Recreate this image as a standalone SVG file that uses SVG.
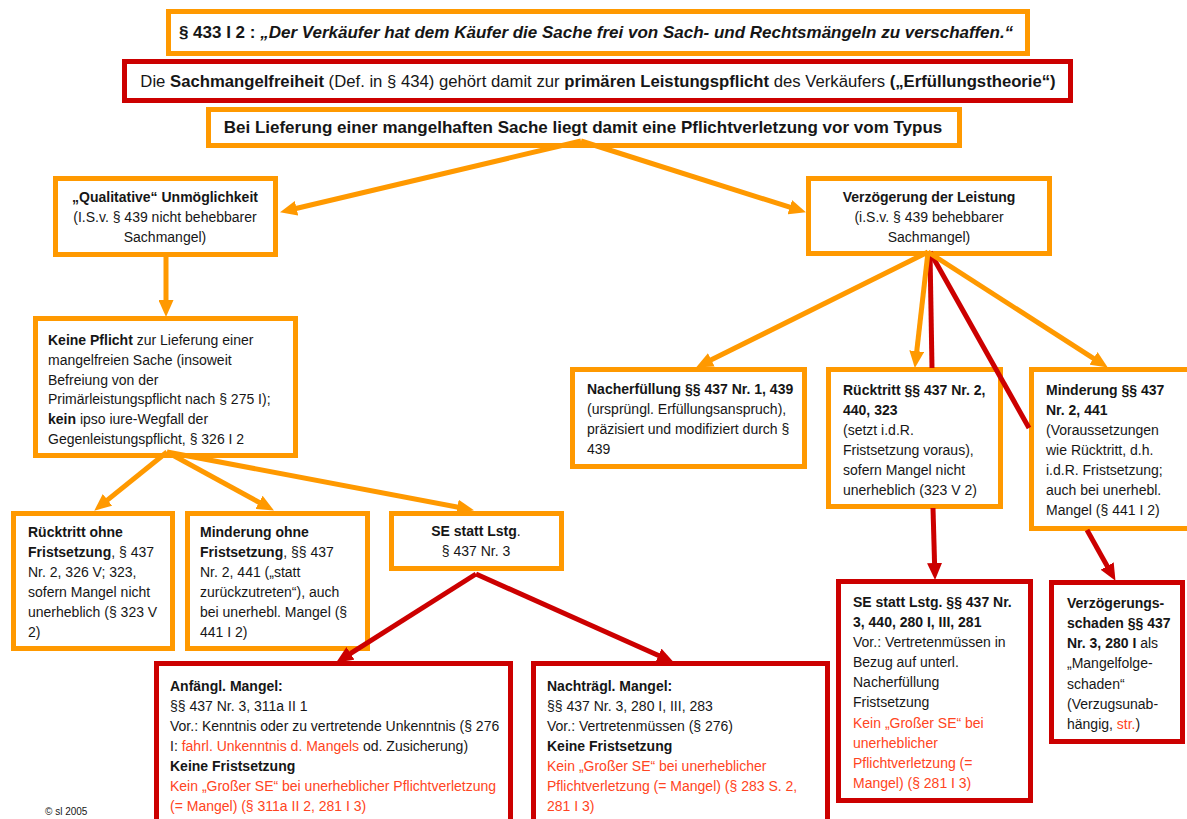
<svg xmlns="http://www.w3.org/2000/svg" width="1187" height="819" viewBox="0 0 1187 819">
  <style>
    .o { fill: #ffffff; stroke: #FF9900; stroke-width: 5; }
    .r { fill: #ffffff; stroke: #CC0000; stroke-width: 5; }
    text { font-family: "Liberation Sans Narrow", "Arial Narrow", "Liberation Sans", Arial, sans-serif; font-size: 14px; fill: #161616; }
    .h { font-size: 17px; }
    .h2 { font-size: 16.7px; }
    .b { font-weight: bold; }
    .i { font-style: italic; }
    .c { text-anchor: middle; }
    .hl { fill: #FF4422; }
    .co { stroke: #FF9900; stroke-width: 5; fill: none; }
    .cr { stroke: #CC0000; stroke-width: 5; fill: none; }
    .co.a { marker-end: url(#ho); }
    .cr.a { marker-end: url(#hr); }
  </style>
  <defs>
    <marker id="ho" markerUnits="userSpaceOnUse" markerWidth="17" markerHeight="15" refX="5" refY="7.5" orient="auto" viewBox="0 0 17 15">
      <path d="M0,0 L17,7.5 L0,15 z" fill="#FF9900"/>
    </marker>
    <marker id="hr" markerUnits="userSpaceOnUse" markerWidth="17" markerHeight="15" refX="5" refY="7.5" orient="auto" viewBox="0 0 17 15">
      <path d="M0,0 L17,7.5 L0,15 z" fill="#CC0000"/>
    </marker>
  </defs>
  <rect width="1187" height="819" fill="#ffffff"/>

  <!-- header statements -->
  <g id="n-433">
    <rect class="o" x="168.5" y="11.5" width="859" height="42"/>
    <text class="h b c" x="596" y="38">§ 433 I 2 :  <tspan class="i">„Der Verkäufer hat dem Käufer die Sache frei von Sach- und Rechtsmängeln zu verschaffen.“</tspan></text>
  </g>
  <g id="n-erfuellung">
    <rect class="r" x="124.5" y="61.5" width="946" height="39"/>
    <text class="h2 c" x="598" y="87">Die <tspan class="b">Sachmangelfreiheit</tspan> (Def. in § 434) gehört damit zur <tspan class="b">primären Leistungspflicht</tspan> des Verkäufers <tspan class="b">(„Erfüllungstheorie“)</tspan></text>
  </g>
  <g id="n-pflichtverletzung">
    <rect class="o" x="208.5" y="109.5" width="751" height="36"/>
    <text class="h b c" x="583" y="133">Bei Lieferung einer mangelhaften Sache liegt damit eine Pflichtverletzung vor vom Typus</text>
  </g>

  <!-- left branch -->
  <g id="n-unmoeglichkeit">
    <rect class="o" x="55.5" y="178.5" width="220" height="76"/>
    <text class="c" x="165" y="202"><tspan class="b">„Qualitative“ Unmöglichkeit</tspan></text>
    <text class="c" x="165" y="222">(I.S.v. § 439 nicht behebbarer</text>
    <text class="c" x="165" y="242">Sachmangel)</text>
  </g>
  <g id="n-keine-pflicht">
    <rect class="o" x="35.5" y="318.5" width="260" height="137"/>
    <text x="48" y="345"><tspan class="b">Keine Pflicht</tspan> zur Lieferung einer</text>
    <text x="48" y="365">mangelfreien Sache (insoweit</text>
    <text x="48" y="385">Befreiung von der</text>
    <text x="48" y="404">Primärleistungspflicht nach § 275 I);</text>
    <text x="48" y="424"><tspan class="b">kein</tspan> ipso iure-Wegfall der</text>
    <text x="48" y="444">Gegenleistungspflicht, § 326 I 2</text>
  </g>
  <g id="n-ruecktritt-ohne">
    <rect class="o" x="13.5" y="513.5" width="159" height="135"/>
    <text x="28" y="537"><tspan class="b">Rücktritt ohne</tspan></text>
    <text x="28" y="557"><tspan class="b">Fristsetzung</tspan>, § 437</text>
    <text x="28" y="577">Nr. 2, 326 V; 323,</text>
    <text x="28" y="597">sofern Mangel nicht</text>
    <text x="28" y="617">unerheblich (§ 323 V</text>
    <text x="28" y="637">2)</text>
  </g>
  <g id="n-minderung-ohne">
    <rect class="o" x="187.5" y="513.5" width="180" height="135"/>
    <text x="200" y="537"><tspan class="b">Minderung ohne</tspan></text>
    <text x="200" y="557"><tspan class="b">Fristsetzung</tspan>, §§ 437</text>
    <text x="200" y="577">Nr. 2, 441 („statt</text>
    <text x="200" y="597">zurückzutreten“), auch</text>
    <text x="200" y="617">bei unerhebl. Mangel (§</text>
    <text x="200" y="637">441 I 2)</text>
  </g>
  <g id="n-se-statt">
    <rect class="o" x="391.5" y="513.5" width="170" height="55"/>
    <text class="c" x="476" y="536"><tspan class="b">SE statt Lstg</tspan>.</text>
    <text class="c" x="476" y="556">§ 437 Nr. 3</text>
  </g>
  <g id="n-anfaengl">
    <rect class="r" x="156.5" y="663.5" width="354" height="170"/>
    <text x="170" y="691"><tspan class="b">Anfängl. Mangel:</tspan></text>
    <text x="170" y="711">§§ 437 Nr. 3, 311a II 1</text>
    <text x="170" y="731">Vor.: Kenntnis oder zu vertretende Unkenntnis (§ 276</text>
    <text x="170" y="751">I: <tspan class="hl">fahrl. Unkenntnis d. Mangels</tspan> od. Zusicherung)</text>
    <text x="170" y="771"><tspan class="b">Keine Fristsetzung</tspan></text>
    <text class="hl" x="170" y="791">Kein „Großer SE“ bei unerheblicher Pflichtverletzung</text>
    <text class="hl" x="170" y="811">(= Mangel) (§ 311a II 2, 281 I 3)</text>
  </g>
  <g id="n-nachtraegl">
    <rect class="r" x="533.5" y="663.5" width="294" height="170"/>
    <text x="547" y="691"><tspan class="b">Nachträgl. Mangel:</tspan></text>
    <text x="547" y="711">§§ 437 Nr. 3, 280 I, III, 283</text>
    <text x="547" y="731">Vor.: Vertretenmüssen (§ 276)</text>
    <text x="547" y="751"><tspan class="b">Keine Fristsetzung</tspan></text>
    <text class="hl" x="547" y="771">Kein „Großer SE“ bei unerheblicher</text>
    <text class="hl" x="547" y="791">Pflichtverletzung (= Mangel) (§ 283 S. 2,</text>
    <text class="hl" x="547" y="811">281 I 3)</text>
  </g>

  <!-- right branch -->
  <g id="n-verzoegerung">
    <rect class="o" x="808.5" y="178.5" width="241" height="75"/>
    <text class="c" x="929" y="202"><tspan class="b">Verzögerung der Leistung</tspan></text>
    <text class="c" x="929" y="222">(i.S.v. § 439 behebbarer</text>
    <text class="c" x="929" y="242">Sachmangel)</text>
  </g>
  <g id="n-nacherfuellung">
    <rect class="o" x="572.5" y="369.5" width="232" height="97"/>
    <text x="587" y="394"><tspan class="b">Nacherfüllung §§ 437 Nr. 1, 439</tspan></text>
    <text x="587" y="414">(ursprüngl. Erfüllungsanspruch),</text>
    <text x="587" y="434">präzisiert und modifiziert durch §</text>
    <text x="587" y="454">439</text>
  </g>
  <g id="n-ruecktritt">
    <rect class="o" x="828.5" y="369.5" width="172" height="137"/>
    <text x="843" y="395"><tspan class="b">Rücktritt §§ 437 Nr. 2,</tspan></text>
    <text x="843" y="415"><tspan class="b">440, 323</tspan></text>
    <text x="843" y="435">(setzt i.d.R.</text>
    <text x="843" y="455">Fristsetzung voraus),</text>
    <text x="843" y="475">sofern Mangel nicht</text>
    <text x="843" y="495">unerheblich (323 V 2)</text>
  </g>
  <g id="n-minderung">
    <rect class="o" x="1031.5" y="369.5" width="170" height="159"/>
    <text x="1046" y="395"><tspan class="b">Minderung §§ 437</tspan></text>
    <text x="1046" y="415"><tspan class="b">Nr. 2, 441</tspan></text>
    <text x="1046" y="435">(Voraussetzungen</text>
    <text x="1046" y="455">wie Rücktritt, d.h.</text>
    <text x="1046" y="475">i.d.R. Fristsetzung;</text>
    <text x="1046" y="495">auch bei unerhebl.</text>
    <text x="1046" y="515">Mangel (§ 441 I 2)</text>
  </g>
  <g id="n-se-statt-verz">
    <rect class="r" x="838.5" y="581.5" width="192" height="219"/>
    <text x="853" y="607"><tspan class="b">SE statt Lstg. §§ 437 Nr.</tspan></text>
    <text x="853" y="627"><tspan class="b">3, 440, 280 I, III, 281</tspan></text>
    <text x="853" y="647">Vor.: Vertretenmüssen in</text>
    <text x="853" y="667">Bezug auf unterl.</text>
    <text x="853" y="687">Nacherfüllung</text>
    <text x="853" y="707">Fristsetzung</text>
    <text class="hl" x="853" y="728">Kein „Großer SE“ bei</text>
    <text class="hl" x="853" y="748">unerheblicher</text>
    <text class="hl" x="853" y="768">Pflichtverletzung (=</text>
    <text class="hl" x="853" y="788">Mangel) (§ 281 I 3)</text>
  </g>
  <g id="n-verzoegerungsschaden">
    <rect class="r" x="1051.5" y="582.5" width="131" height="159"/>
    <text x="1067" y="608"><tspan class="b">Verzögerungs-</tspan></text>
    <text x="1067" y="628"><tspan class="b">schaden §§ 437</tspan></text>
    <text x="1067" y="648"><tspan class="b">Nr. 3, 280 I</tspan> als</text>
    <text x="1067" y="668">„Mangelfolge-</text>
    <text x="1067" y="689">schaden“</text>
    <text x="1067" y="709">(Verzugsunab-</text>
    <text x="1067" y="729">hängig, <tspan class="hl">str.</tspan>)</text>
  </g>

  <!-- connectors -->
  <g id="connectors">
    <line class="co a" x1="581" y1="141" x2="291.7" y2="209.5"/>
    <line class="co a" x1="581" y1="141" x2="794.5" y2="208.7"/>
    <line class="co a" x1="166" y1="252" x2="166" y2="305"/>
    <line class="co a" x1="167" y1="452" x2="103.6" y2="503.1"/>
    <line class="co a" x1="167" y1="452" x2="263.4" y2="504.7"/>
    <line class="co a" x1="167" y1="452" x2="462.2" y2="508"/>
    <line class="cr a" x1="476" y1="574" x2="346.3" y2="656.1"/>
    <line class="cr a" x1="476" y1="574" x2="663" y2="657.5"/>
    <line class="cr" x1="930" y1="252" x2="932" y2="368"/>
    <line class="cr a" x1="933" y1="508" x2="934.7" y2="568"/>
    <line class="cr" x1="930" y1="252" x2="1029" y2="428"/>
    <line class="cr a" x1="1087" y1="530" x2="1109.6" y2="570.4"/>
    <line class="co a" x1="928" y1="252" x2="706.8" y2="362.1"/>
    <line class="co a" x1="928" y1="252" x2="916.2" y2="356.1"/>
    <line class="co a" x1="928" y1="252" x2="1097.7" y2="361.1"/>
  </g>

  <text x="45" y="815" style="font-size:10px">© sl 2005</text>
</svg>
